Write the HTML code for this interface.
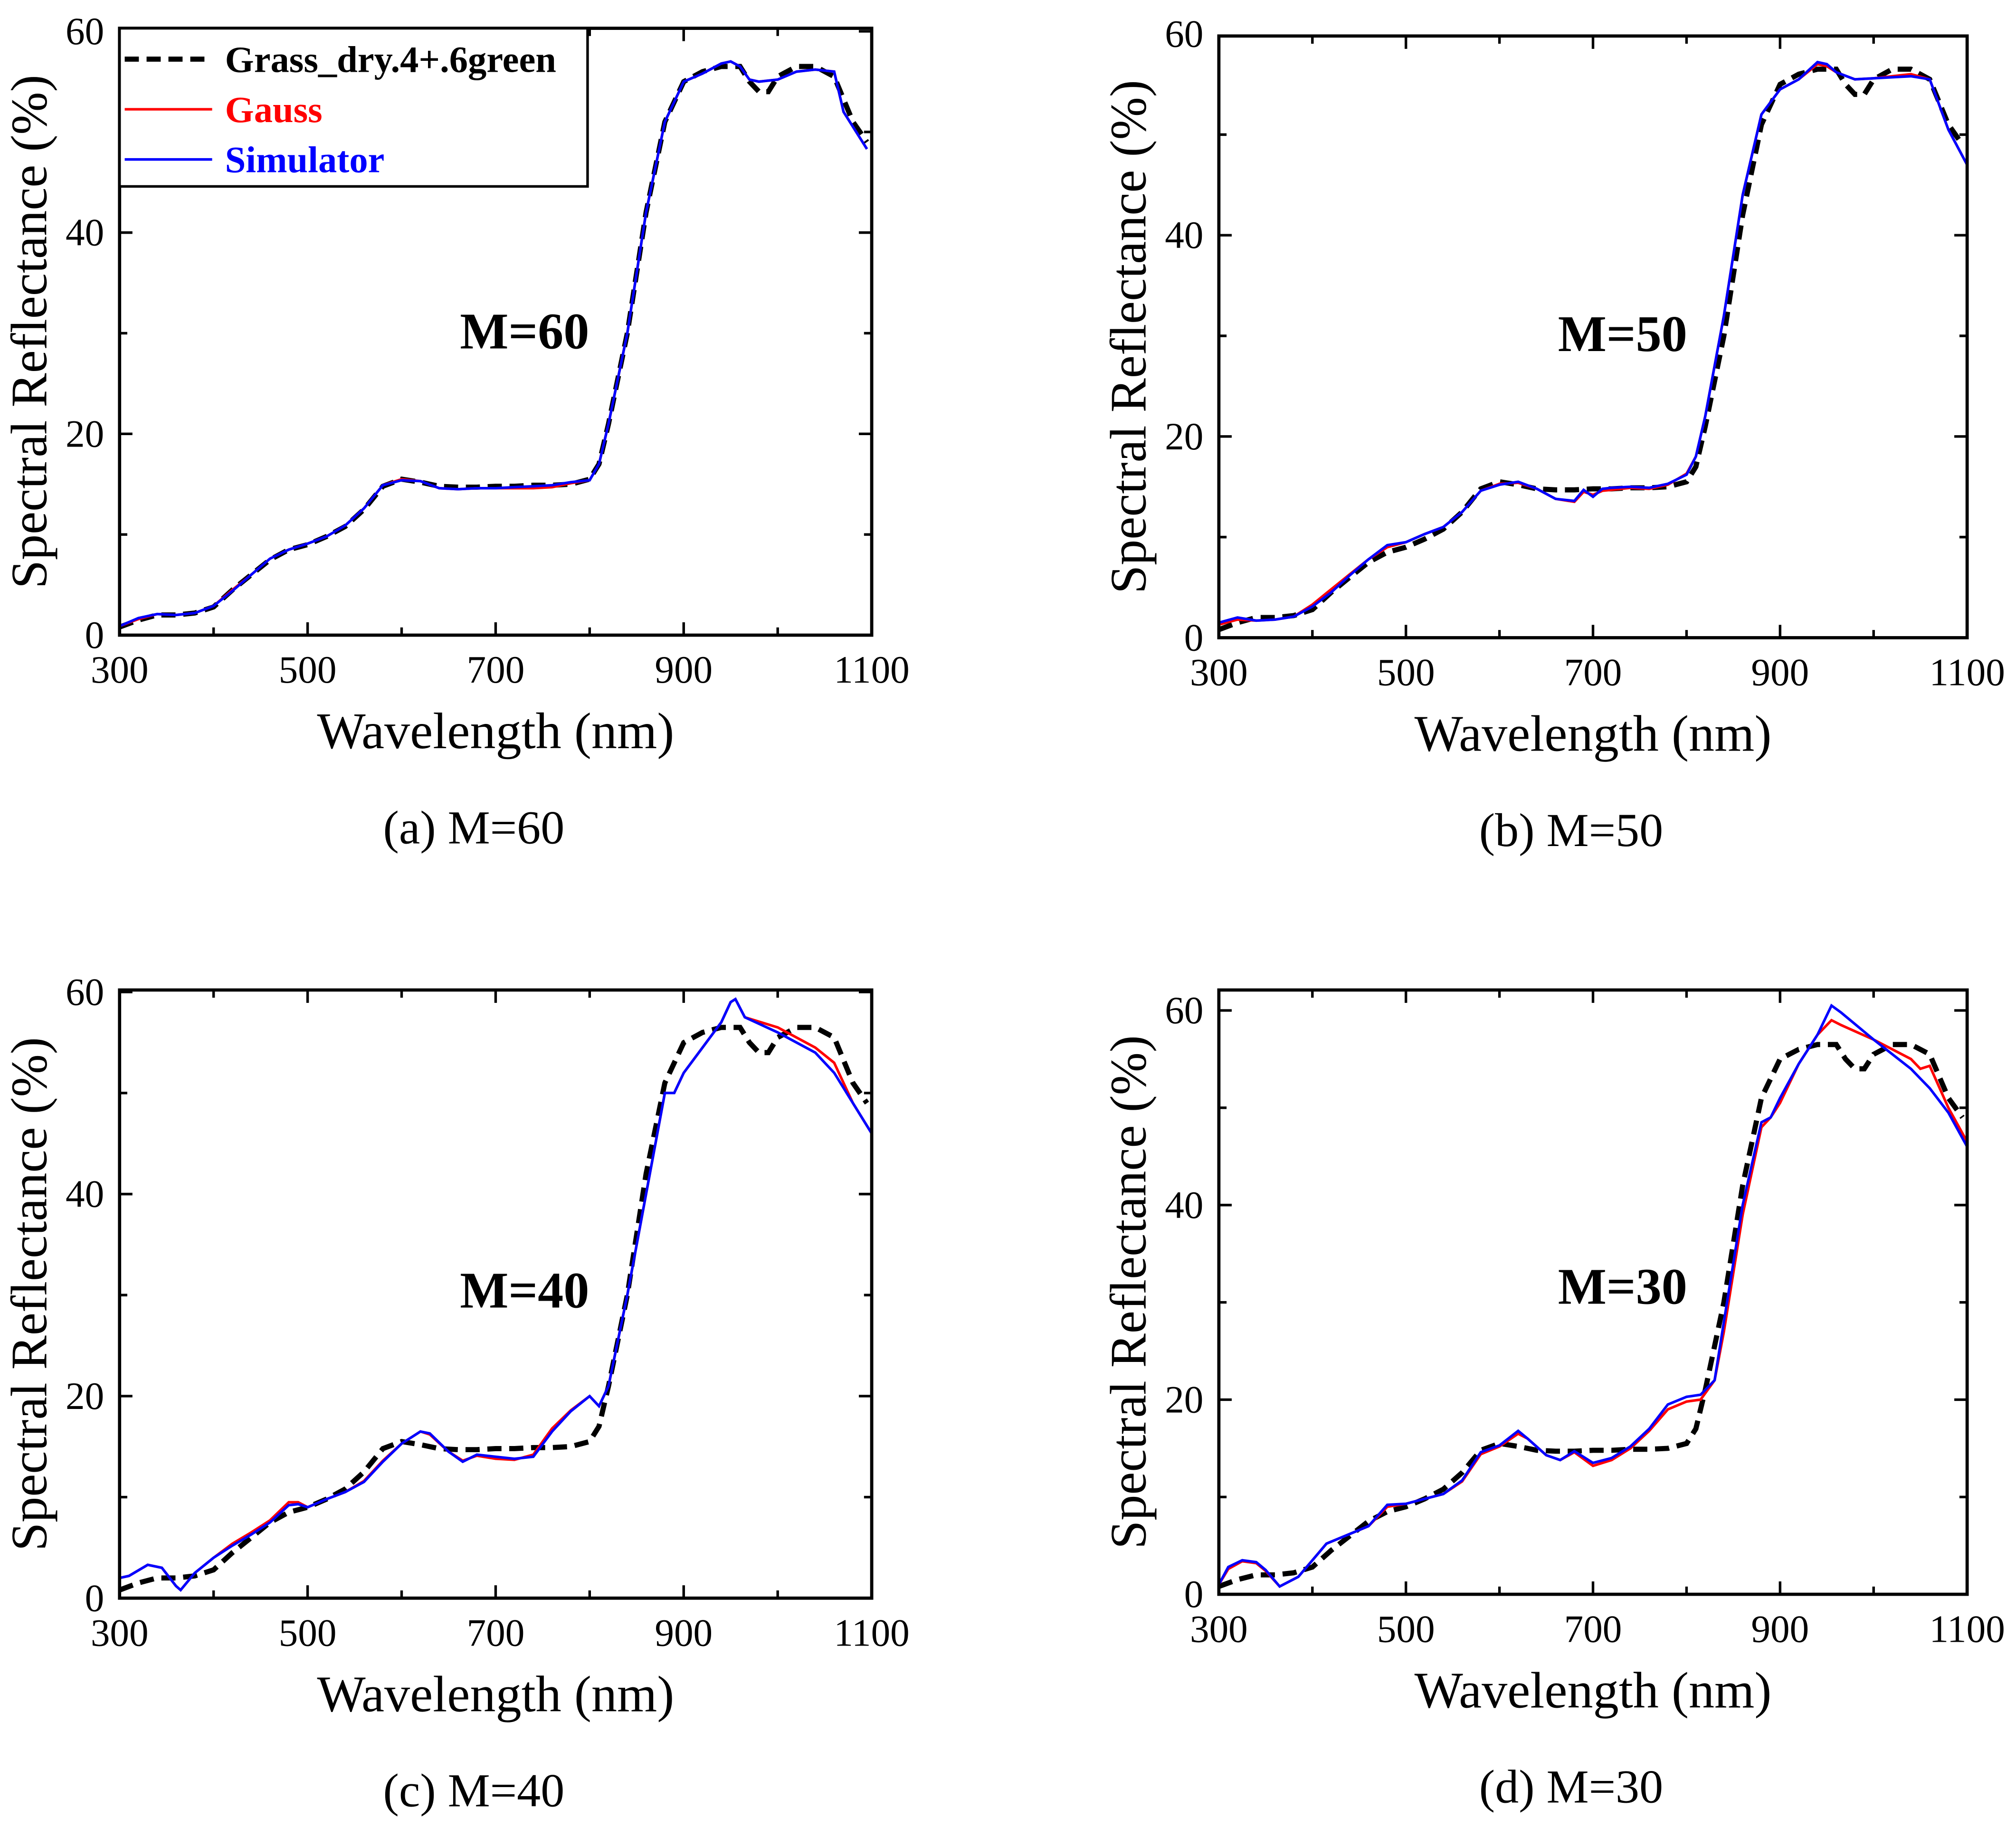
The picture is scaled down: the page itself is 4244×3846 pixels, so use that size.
<!DOCTYPE html>
<html><head><meta charset="utf-8"><style>
html,body{margin:0;padding:0;background:#fff;}
svg{display:block;}
text{font-family:"Liberation Serif",serif;}
</style></head><body>
<svg id="fig" width="4244" height="3846" viewBox="0 0 1568 1421" preserveAspectRatio="none" xmlns="http://www.w3.org/2000/svg"></svg>
<script>
// Reference spectrum (Grass_dry.4+.6green)
const refWl = [300,320,340,360,380,400,420,440,460,480,500,520,540,560,580,600,620,640,660,680,700,720,740,760,780,800,810,820,840,860,880,900,920,940,960,970,980,990,1000,1020,1040,1060,1080,1095];
const refVal = [0.8,1.5,2,2,2.2,2.8,4.5,6,7.5,8.5,9,9.8,10.8,12.5,14.8,15.5,15.2,14.8,14.7,14.7,14.8,14.8,14.9,14.9,15,15.5,17,21,30,42,51,55,56,56.5,56.5,55,54,54,55.5,56.5,56.5,55.5,51,49];
// Panel a (M=60)
const aWl = [300,320,340,360,380,400,420,440,460,480,500,520,540,560,580,600,620,640,660,680,700,720,740,760,780,800,810,820,840,860,880,900,920,940,950,960,970,980,1000,1020,1040,1060,1070,1095];
const aGauss = [0.9,1.6,2.1,2.0,2.2,2.9,4.5,6,7.6,8.5,9.1,9.8,10.9,12.6,14.9,15.5,15.3,14.6,14.5,14.6,14.6,14.6,14.6,14.7,15.1,15.4,17,21,30,42,51,55,55.8,56.8,57,56.5,55.2,55,55.2,56,56.2,56,52,48.3];
const aSim = [0.9,1.7,2.1,2.0,2.2,2.9,4.4,6,7.6,8.5,9.1,9.8,10.9,12.6,14.9,15.4,15.3,14.6,14.5,14.6,14.6,14.7,14.8,14.9,15.2,15.4,17,21,30,42,51,55,55.8,56.8,57,56.5,55.2,55,55.2,56,56.2,56,52,48.3];
// Panel b (M=50)
const bWl = [300,320,340,360,380,400,420,440,460,480,500,520,540,560,580,600,620,640,660,680,690,700,710,720,740,760,780,800,810,820,840,860,880,900,920,940,950,960,980,1000,1040,1060,1080,1100];
const bGauss = [1.3,1.8,1.7,1.8,2.1,3.3,4.8,6.3,7.8,9,9.5,10.3,11,12.5,14.6,15.3,15.4,14.8,13.8,13.5,14.5,14.2,14.6,14.7,14.9,14.8,15.2,16.3,18,22,32,44,52,54.5,55.5,57,56.8,56.2,55.5,55.6,56,55.5,50.5,47];
const bSim = [1.5,2,1.7,1.8,2.1,3.1,4.5,6.2,7.8,9.2,9.5,10.3,11,12.5,14.6,15.2,15.5,14.8,13.8,13.6,14.7,14,14.8,14.9,15,14.9,15.3,16.2,18,22,32,44,52,54.5,55.5,57.2,57,56.2,55.5,55.6,55.8,55.5,50.5,47];
// Panel c (M=40)
const cWl = [300,310,330,345,360,365,380,400,420,440,460,480,490,500,520,540,560,580,600,620,630,650,665,680,700,720,740,760,780,800,810,820,840,860,880,890,900,920,940,950,955,965,1000,1040,1060,1080,1100];
const cGauss = [2,2.2,3.3,3,1.2,0.8,2.5,4,5.4,6.5,7.7,9.5,9.5,9,9.8,10.5,11.6,13.6,15.3,16.5,16.2,14.5,13.6,14.1,13.8,13.7,14.2,16.8,18.6,20,19,21,30,40,50,50,52,54.5,57,59,59.3,57.5,56.5,54.5,53,49,46];
const cSim = [2,2.2,3.3,3,1.2,0.8,2.5,4,5.2,6.3,7.5,9.2,9.3,9,9.8,10.5,11.5,13.5,15.3,16.5,16.3,14.5,13.5,14.2,14,13.8,14,16.5,18.5,20,19,21,30,40,50,50,52,54.5,57,59,59.3,57.5,56,54,52,49,46];
// Panel d (M=30)
const dWl = [300,310,325,340,350,365,385,400,415,440,460,480,500,520,540,560,580,600,620,630,650,665,680,700,720,740,760,780,800,815,830,840,860,880,890,900,920,940,955,965,1000,1040,1050,1060,1080,1100];
const dGauss = [1,2.6,3.4,3.2,2.4,0.8,1.8,3.5,5.2,6.2,7,9,9.3,9.8,10.3,11.6,14.4,15.2,16.5,16,14.3,13.8,14.6,13.2,13.8,15,16.8,19,19.8,20,22,27,39,48,49,50.5,54.5,57.5,59,58.5,57,55,54,54.3,50,46.5];
const dSim = [1,2.8,3.5,3.3,2.5,0.8,1.8,3.5,5.2,6.2,7,9.2,9.3,9.8,10.3,11.7,14.6,15.3,16.8,16,14.3,13.8,14.7,13.5,14,15.2,17,19.5,20.3,20.5,22,28,40,48.5,49,51,54.5,57.5,60.5,59.8,57,54,53,52,49.5,46];
const xTickLabels = ["300","500","700","900","1100"];
const yTickLabelsA = ["0","20","40","60"];

const NS="http://www.w3.org/2000/svg";
const svg=document.getElementById('fig');
function mk(tag,attrs,parent){const e=document.createElementNS(NS,tag);for(const k in attrs)e.setAttribute(k,attrs[k]);(parent||svg).appendChild(e);return e;}

const panels=[
 {id:'a',x0:93,x1:678,yTop:22,yBot:494,ymax:60.3,wl:aWl,g:aGauss,s:aSim,label:'M=60',cap:'(a) M=60',lx:408,ly:271,legend:true},
 {id:'b',x0:948,x1:1530,yTop:28,yBot:496,ymax:59.8,wl:bWl,g:bGauss,s:bSim,label:'M=50',cap:'(b) M=50',lx:1262,ly:273},
 {id:'c',x0:93,x1:678,yTop:770,yBot:1243,ymax:60.2,wl:cWl,g:cGauss,s:cSim,label:'M=40',cap:'(c) M=40',lx:408,ly:1017},
 {id:'d',x0:948,x1:1530,yTop:770,yBot:1240,ymax:62.1,wl:dWl,g:dGauss,s:dSim,label:'M=30',cap:'(d) M=30',lx:1262,ly:1014},
];

panels.forEach(p=>{
 const g=mk('g',{});
 
 
 const X=v=>p.x0+(v-300)/800*(p.x1-p.x0);
 const Y=v=>p.yBot-v/p.ymax*(p.yBot-p.yTop);
 const w=p.x1-p.x0,h=p.yBot-p.yTop;
 for(let v=300;v<=1100;v+=100){
  const major=(v-300)%200===0;const L=major?10:6;
  mk('line',{x1:X(v),x2:X(v),y1:p.yBot,y2:p.yBot-L,stroke:'#000','stroke-width':2},g);
  mk('line',{x1:X(v),x2:X(v),y1:p.yTop,y2:p.yTop+L,stroke:'#000','stroke-width':2},g);
 }
 for(let v=0;v<=p.ymax;v+=10){
  const major=v%20===0;const L=major?10:6;
  mk('line',{x1:p.x0,x2:p.x0+L,y1:Y(v),y2:Y(v),stroke:'#000','stroke-width':2},g);
  mk('line',{x1:p.x1,x2:p.x1-L,y1:Y(v),y2:Y(v),stroke:'#000','stroke-width':2},g);
 }
 xTickLabels.forEach(t=>{
  const e=mk('text',{x:X(+t),y:p.yBot+37,'text-anchor':'middle','font-size':30},g);e.textContent=t;
  
  
 });
 yTickLabelsA.forEach(t=>{
  const e=mk('text',{x:p.x0-12,y:Y(+t)+10,'text-anchor':'end','font-size':30},g);e.textContent=t;
  
  
 });
 const xt=mk('text',{x:(p.x0+p.x1)/2,y:p.yBot+88,'text-anchor':'middle','font-size':40},g);xt.textContent='Wavelength (nm)';
 
 
 const yt=mk('text',{x:0,y:0,'text-anchor':'middle','font-size':40,transform:`translate(${p.x0-57},${(p.yTop+p.yBot)/2}) rotate(-90)`},g);yt.textContent='Spectral Reflectance (%)';
 
 
 const cap=mk('text',{x:(p.x0+p.x1)/2-17,y:p.yBot+162,'text-anchor':'middle','font-size':37},g);cap.textContent=p.cap;
 
 
 const ml=mk('text',{x:p.lx,y:p.ly,'text-anchor':'middle','font-size':40,'font-weight':'bold'},g);ml.textContent=p.label;
 
 
 const pts=(xs,ys)=>xs.map((x,i)=>X(x).toFixed(1)+','+Y(ys[i]).toFixed(1)).join(' ');
 const r=mk('polyline',{points:pts(refWl,refVal),fill:'none',stroke:'#000','stroke-width':4,'stroke-dasharray':'11,6'},g);
 
 
 const gl=mk('polyline',{points:pts(p.wl,p.g),fill:'none',stroke:'#ff0000','stroke-width':2},g);
 
 
 const sl=mk('polyline',{points:pts(p.wl,p.s),fill:'none',stroke:'#0000ff','stroke-width':2},g);
 
 
 const fr=mk('rect',{x:p.x0,y:p.yTop,width:w,height:h,fill:'none',stroke:'#000','stroke-width':2.5},g);
 
 
 if(p.legend){
  const lg=mk('g',{},g);
  
  
  mk('rect',{x:p.x0,y:p.yTop,width:364,height:123,fill:'#fff',stroke:'#000','stroke-width':2},lg);
  const items=[['Grass_dry.4+.6green','#000',true],['Gauss','#ff0000',false],['Simulator','#0000ff',false]];
  items.forEach((it,i)=>{
   const yy=p.yTop+24+i*39;
   const ln=mk('line',{x1:p.x0+4,x2:p.x0+72,y1:yy,y2:yy,stroke:it[1],'stroke-width':it[2]?4:2,'stroke-dasharray':it[2]?'11,6':'none'},lg);
   
   
   const t=mk('text',{x:p.x0+82,y:yy+10,'font-size':29,'font-weight':'bold',fill:it[1]},lg);t.textContent=it[0];
   
   
  });
 }
});
</script>
</body></html>
